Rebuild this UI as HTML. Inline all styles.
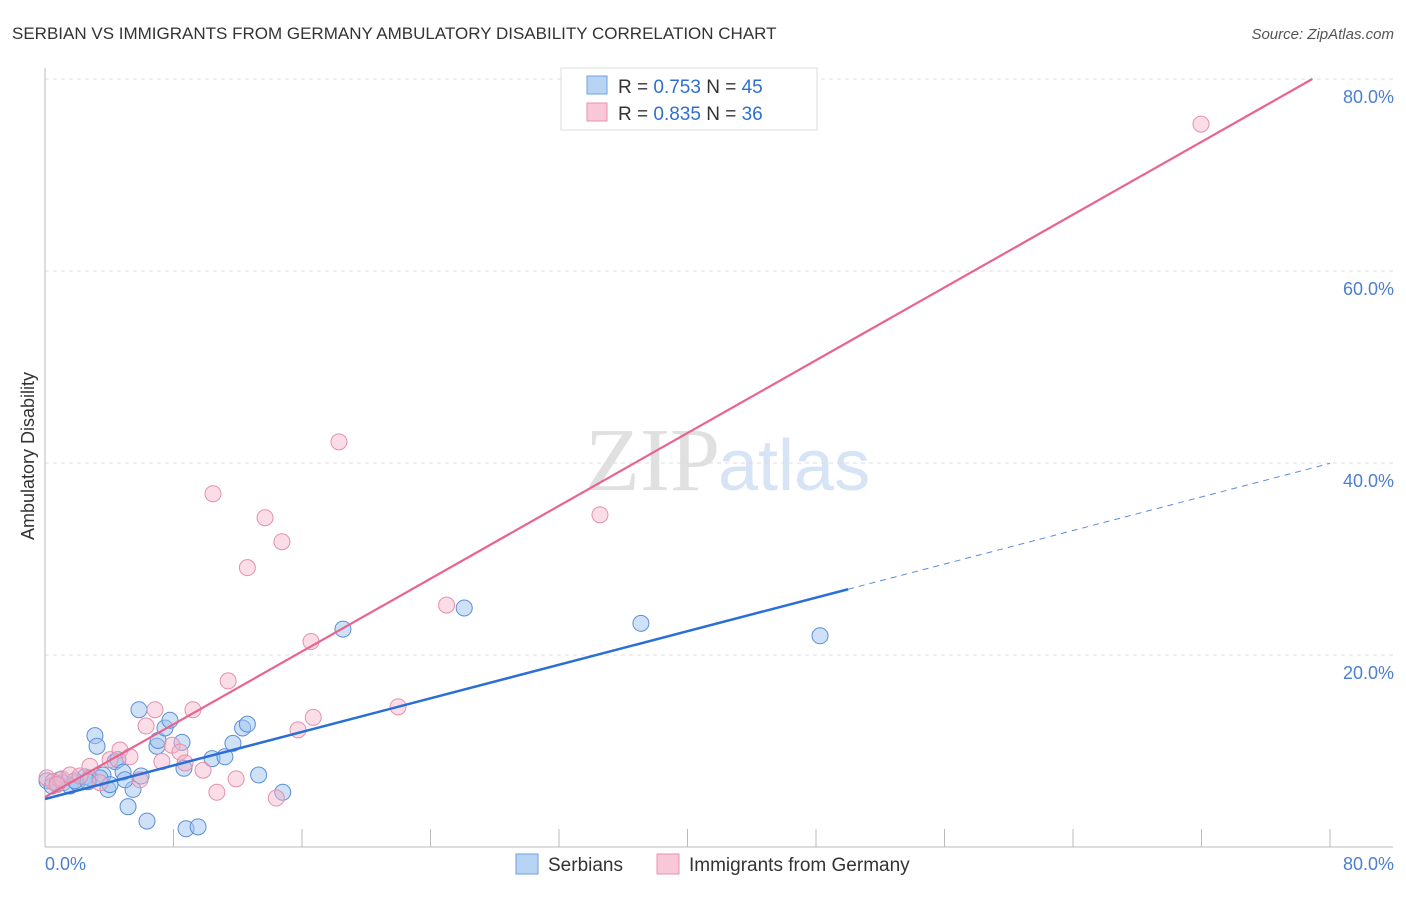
<!DOCTYPE html>
<html><head><meta charset="utf-8"><style>
body{margin:0;background:#fff;font-family:"Liberation Sans",sans-serif}
</style></head><body>
<svg width="1406" height="892" xmlns="http://www.w3.org/2000/svg">
<text x="12" y="39" font-size="17" fill="#333">SERBIAN VS IMMIGRANTS FROM GERMANY AMBULATORY DISABILITY CORRELATION CHART</text>
<text x="1394" y="39" font-size="15" fill="#555" font-style="italic" text-anchor="end">Source: ZipAtlas.com</text>
<text x="720" y="490" font-size="90" fill="#e0e0e0" text-anchor="end" font-family="Liberation Serif,serif">ZIP</text>
<text x="718" y="490" font-size="72" fill="#d6e4f5">atlas</text>
<g id="grid"></g>
<line x1="45" y1="68" x2="45" y2="847" stroke="#bbb"/>
<line x1="45" y1="847" x2="1393" y2="847" stroke="#bbb"/>
<text transform="translate(34,456) rotate(-90)" font-size="18" fill="#333" text-anchor="middle">Ambulatory Disability</text>
<text x="45" y="870" font-size="18" fill="#4a7fd0">0.0%</text>
<text x="1394" y="870" font-size="18" fill="#4a7fd0" text-anchor="end">80.0%</text>
<g id="pts"></g>
<g id="lines"></g>
<g>
<rect x="561" y="68" width="256" height="62" fill="#fff" stroke="#ddd"/>
<rect x="587" y="76" width="20" height="18" fill="#b8d4f5" stroke="#6fa0e0"/>
<text x="618" y="93" font-size="19" fill="#333">R = <tspan fill="#2f6fd0">0.753</tspan>   N = <tspan fill="#2f6fd0">45</tspan></text>
<rect x="587" y="103" width="20" height="18" fill="#f8c8d8" stroke="#e890b0"/>
<text x="618" y="120" font-size="19" fill="#333">R = <tspan fill="#2f6fd0">0.835</tspan>   N = <tspan fill="#2f6fd0">36</tspan></text>
</g>
<g>
<rect x="516" y="854" width="22" height="20" fill="#b8d4f5" stroke="#6fa0e0"/>
<text x="548" y="871" font-size="19" fill="#333">Serbians</text>
<rect x="657" y="854" width="22" height="20" fill="#f8c8d8" stroke="#e890b0"/>
<text x="689" y="871" font-size="19" fill="#333">Immigrants from Germany</text>
</g>
</svg>
<script>
const yTicks=[20,40,60,80];
const xTicks=[0,8,16,24,32,40,48,56,64,72,80];
const blueX=[0.12,0.44,0.75,1.12,1.56,1.99,2.49,2.8,3.11,3.24,3.61,3.92,4.36,4.54,4.86,5.17,5.48,5.85,5.98,6.35,6.97,7.04,7.47,7.78,8.53,8.65,8.78,9.53,10.4,11.2,11.7,12.3,12.6,13.3,14.8,18.55,26.1,37.1,48.25,0.93,1.87,3.42,4.05,4.98,2.68];
const blueY=[6.9,6.35,6.6,6.7,6.35,6.7,7.3,7.2,11.6,10.5,7.5,6.0,8.9,9.1,7.8,4.2,6.0,14.3,7.4,2.7,10.5,11.1,12.4,13.2,10.9,8.2,1.9,2.1,9.2,9.4,10.8,12.4,12.8,7.5,5.7,22.7,24.9,23.3,22.0,7.0,6.9,7.2,6.5,7.0,6.8];
const pinkX=[0.12,0.5,1.06,1.56,2.18,2.8,3.42,4.05,4.67,5.29,5.91,6.29,6.85,7.28,7.91,8.4,8.72,9.21,9.84,10.46,10.7,11.4,11.9,12.6,13.7,14.4,14.75,15.75,16.56,16.7,18.3,21.98,25.0,34.55,71.97,0.75];
const pinkY=[7.2,6.8,7.1,7.5,7.4,8.4,6.7,9.1,10.1,9.4,7.0,12.6,14.3,8.9,10.6,9.9,8.75,14.3,8.0,36.8,5.7,17.3,7.1,29.1,34.3,5.1,31.8,12.2,21.4,13.5,42.2,14.6,25.2,34.6,75.3,6.5];
const blueFit=[5.0,0.437];
const pinkFit=[5.2,0.948];
const NS='http://www.w3.org/2000/svg';
const sx=v=>45+v*1285/80;
const sy=v=>847-v*9.6;
function mk(t,a,p){const e=document.createElementNS(NS,t);for(const k in a)e.setAttribute(k,a[k]);p.appendChild(e);return e;}
const grid=document.getElementById('grid');
yTicks.forEach(t=>{
 const l=mk('line',{x1:45,x2:1393,y1:sy(t),y2:sy(t),stroke:'#ddd','stroke-dasharray':'4,4'},grid);
 
 
 const tx=mk('text',{x:1394,y:sy(t)+24,'font-size':18,fill:'#4a7fd0','text-anchor':'end'},grid);
 tx.textContent=t.toFixed(1)+'%';
 
 
});
xTicks.forEach(t=>{
 const l=mk('line',{x1:sx(t),x2:sx(t),y1:829,y2:847,stroke:'#bbb'},grid);
 
 
});
const pts=document.getElementById('pts');
blueX.forEach((x,i)=>{
 const c=mk('circle',{cx:sx(x),cy:sy(blueY[i]),r:8,fill:'rgba(160,196,240,0.5)',stroke:'#5b8fd6','stroke-width':1},pts);
 
 
});
pinkX.forEach((x,i)=>{
 const c=mk('circle',{cx:sx(x),cy:sy(pinkY[i]),r:8,fill:'rgba(245,180,200,0.45)',stroke:'#e590ac','stroke-width':1},pts);
 
 
});
const lines=document.getElementById('lines');
let l1=mk('line',{x1:sx(0),y1:sy(blueFit[0]),x2:sx(50),y2:sy(blueFit[0]+blueFit[1]*50),stroke:'#2a6fd6','stroke-width':2.5},lines);


let l2=mk('line',{x1:sx(50),y1:sy(blueFit[0]+blueFit[1]*50),x2:sx(80),y2:sy(blueFit[0]+blueFit[1]*80),stroke:'#5b8fd6','stroke-width':1,'stroke-dasharray':'6,5'},lines);


const xe=(80-pinkFit[0])/pinkFit[1];
let l3=mk('line',{x1:sx(0),y1:sy(pinkFit[0]),x2:sx(xe),y2:sy(80),stroke:'#e8648f','stroke-width':2.2},lines);


</script>
</body></html>
